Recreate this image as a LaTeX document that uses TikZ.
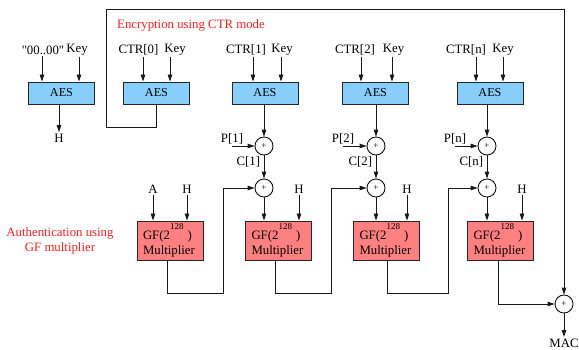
\documentclass[tikz,border=0pt]{standalone}
\usepackage{fontspec}
\setmainfont{Liberation Serif}
\usetikzlibrary{arrows.meta}
\definecolor{aesblue}{HTML}{87CEFA}
\definecolor{gfred}{HTML}{FF8080}
\definecolor{notered}{HTML}{FF1E1E}
\tikzset{aes/.style={draw=black!85, fill=aesblue, line width=0.9pt, minimum width=66pt, minimum height=22pt, inner sep=0pt, font=\fontsize{12.2}{14}\selectfont}}
\tikzset{gfmul/.style={draw=black!85, fill=gfred, line width=0.9pt, minimum width=66pt, minimum height=39pt, text width=54pt, align=left, inner xsep=6pt, inner ysep=0pt}}
\tikzset{xor/.style={draw, circle, fill=white, minimum size=18pt, inner sep=0pt, line width=0.8pt, font=\fontsize{9}{9}\selectfont}}
\tikzset{lbl/.style={inner sep=1.5pt}}
\tikzset{note/.style={text=notered, inner sep=0pt}}
\tikzstyle{arrow} = [line width=0.85pt, draw=black!90, -{Triangle[length=7pt,width=4.5pt]}]
\newcommand{\gftext}{GF(2\raisebox{10pt}{\fontsize{9}{9}\selectfont 128}\hspace{4pt})\\Multiplier}

\begin{document}
\begin{tikzpicture}[x=1pt, y=-1pt, font=\fontsize{12.8}{15}\selectfont]
\useasboundingbox (0,0) rectangle (579,350);

% AES blocks
\node[aes] (aesH) at (61.5,93) {AES};
\node[aes] (aes0) at (156.5,93) {AES};
\node[aes] (aes1) at (265,93) {AES};
\node[aes] (aes2) at (375.5,93) {AES};
\node[aes] (aesn) at (490,93) {AES};

% inputs on top
\node[lbl] (zero) at (43,50) {\textquotedbl 00..00\textquotedbl};
\node[lbl] (keyH) at (77,50) {Key};
\node[lbl] (ctr0) at (138.5,50) {CTR[0]};
\node[lbl] (key0) at (175,50) {Key};
\node[lbl] (ctr1) at (246,50) {CTR[1]};
\node[lbl] (key1) at (282,50) {Key};
\node[lbl] (ctr2) at (355,50) {CTR[2]};
\node[lbl] (key2) at (393.5,50) {Key};
\node[lbl] (ctrn) at (466,50) {CTR[n]};
\node[lbl] (keyn) at (503,50) {Key};

\draw[arrow] ([xshift=-1pt]zero.south) -- ([xshift=-1pt]zero.south |- aesH.north);
\draw[arrow] ([xshift=2pt]keyH.south) -- ([xshift=2pt]keyH.south |- aesH.north);
\draw[arrow] ([xshift=4.5pt]ctr0.south) -- ([xshift=4.5pt]ctr0.south |- aes0.north);
\draw[arrow] ([xshift=-5pt]key0.south) -- ([xshift=-5pt]key0.south |- aes0.north);
\draw[arrow] ([xshift=7pt]ctr1.south) -- ([xshift=7pt]ctr1.south |- aes1.north);
\draw[arrow] ([xshift=-1pt]key1.south) -- ([xshift=-1pt]key1.south |- aes1.north);
\draw[arrow] ([xshift=6pt]ctr2.south) -- ([xshift=6pt]ctr2.south |- aes2.north);
\draw[arrow] ([xshift=-1.5pt]key2.south) -- ([xshift=-1.5pt]key2.south |- aes2.north);
\draw[arrow] ([xshift=10pt]ctrn.south) -- ([xshift=10pt]ctrn.south |- aesn.north);
\draw[arrow] (keyn.south) -- (keyn.south |- aesn.north);

% hash key
\node[lbl] (hout) at (59,138) {H};
\draw[arrow] (aesH.south -| hout) -- (hout);

% CTR xors
\node[xor] (x1) at (264,146) {+};
\node[xor] (x2) at (376,146) {+};
\node[xor] (xn) at (487,146) {+};
\coordinate (p1) at (232,146);
\coordinate (p2) at (343,146);
\coordinate (pn) at (455,146);
\node[lbl, above] (lp1) at (p1) {P[1]};
\node[lbl, above] (lp2) at (p2) {P[2]};
\node[lbl, above] (lpn) at (pn) {P[n]};
\draw[arrow] (p1) -- (x1);
\draw[arrow] (p2) -- (x2);
\draw[arrow] (pn) -- (xn);
\draw[arrow] (aes1.south -| x1) -- (x1);
\draw[arrow] (aes2.south -| x2) -- (x2);
\draw[arrow] (aesn.south -| xn) -- (xn);

% GHASH xors
\node[xor] (y1) at (264,188) {+};
\node[xor] (y2) at (376,188) {+};
\node[xor] (yn) at (487,188) {+};
\draw[arrow] (x1) -- node[lbl, left=2pt, pos=0.3] (c1) {C[1]} (y1);
\draw[arrow] (x2) -- node[lbl, left=2pt, pos=0.3] (c2) {C[2]} (y2);
\draw[arrow] (xn) -- node[lbl, left=2pt, pos=0.3] (cn) {C[n]} (yn);

% multipliers
\node[gfmul] (m1) at (170,240.5) {\gftext};
\node[gfmul] (m2) at (278.5,240.5) {\gftext};
\node[gfmul] (m3) at (386.5,240.5) {\gftext};
\node[gfmul] (m4) at (500.5,240.5) {\gftext};

\node[lbl] (a) at (153,189) {A};
\node[lbl] (h1) at (187,189) {H};
\node[lbl] (h2) at (299,189) {H};
\node[lbl] (h3) at (407,189) {H};
\node[lbl] (h4) at (522,189) {H};
\draw[arrow] (a) -- (a |- m1.north);
\draw[arrow] (h1) -- (h1 |- m1.north);
\draw[arrow] (h2) -- (h2 |- m2.north);
\draw[arrow] (h3) -- (h3 |- m3.north);
\draw[arrow] (h4) -- (h4 |- m4.north);
\draw[arrow] (y1) -- (y1 |- m2.north);
\draw[arrow] (y2) -- (y2 |- m3.north);
\draw[arrow] (yn) -- (yn |- m4.north);

% chaining
\coordinate (r1) at (223,293);
\coordinate (r2) at (331,293);
\coordinate (r3) at (448,293);
\draw[arrow] ([xshift=-3pt]m1.south) |- (r1) |- (y1);
\draw[arrow] ([xshift=-3pt]m2.south) |- (r2) |- (y2);
\draw[arrow] ([xshift=0.5pt]m3.south) |- (r3) |- (yn);

% tag
\node[xor] (fin) at (564,304) {+};
\node[lbl] (mac) at (564,343) {MAC};
\draw[arrow] ([xshift=-2.5pt]m4.south) |- (fin);
\draw[arrow] (fin) -- (mac);
\coordinate (corner) at (106,9);
\draw[arrow] (aes0.south) -- ++(0,23) -| (corner) -| (fin);

% notes
\node[note, anchor=west] (enc) at (117,25) {Encryption using CTR mode};
\node[note, align=center] (auth) at (60,241) {Authentication using\\GF multiplier};
\end{tikzpicture}
\end{document}
